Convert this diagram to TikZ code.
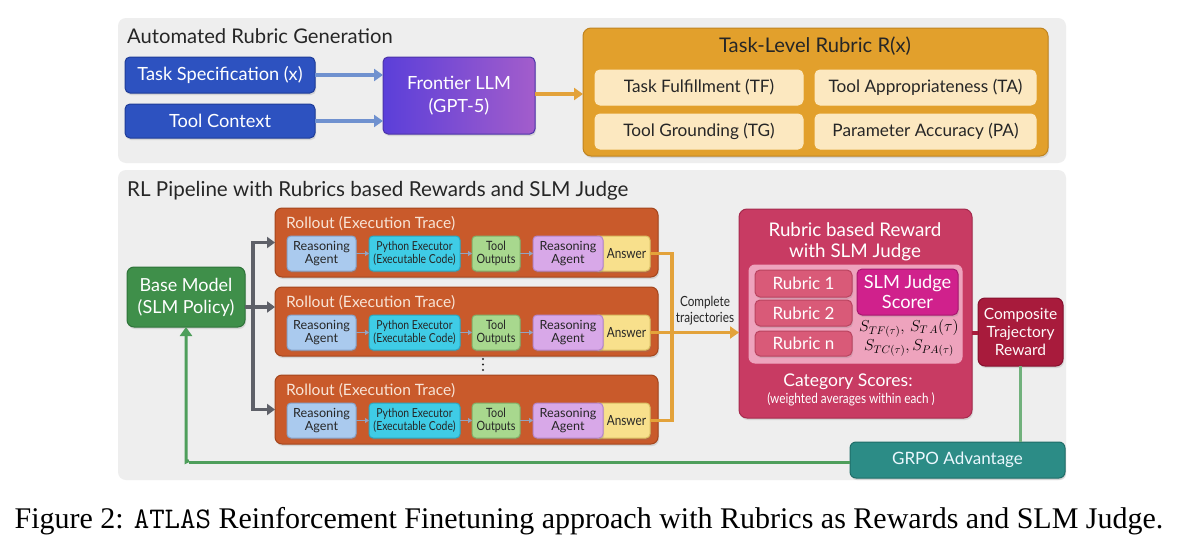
\documentclass[tikz,border=0pt]{standalone}
\usepackage{fontspec}
\setmainfont{Lato}
\newfontfamily\capserif{Liberation Serif}
\newfontfamily\condfont[FakeStretch=0.84]{Lato}
\usetikzlibrary{arrows.meta,shadows,calc}

\definecolor{panel}{HTML}{EEEEEE}
\definecolor{blueF}{HTML}{2D52C0}\definecolor{blueB}{HTML}{1E3C98}\definecolor{bluearr}{HTML}{6F91CF}
\definecolor{llmL}{HTML}{5B3FD9}\definecolor{llmR}{HTML}{A35DCB}\definecolor{llmB}{HTML}{4B33A8}
\definecolor{orF}{HTML}{E2A02C}\definecolor{orB}{HTML}{BF8420}\definecolor{orIn}{HTML}{FCE8C0}\definecolor{orArr}{HTML}{E3A23A}
\definecolor{rolF}{HTML}{C95A2B}\definecolor{rolB}{HTML}{A4461D}\definecolor{rolT}{HTML}{F8E4D6}
\definecolor{raF}{HTML}{AACAEE}\definecolor{raB}{HTML}{86A3CB}
\definecolor{pyF}{HTML}{3FCCE6}\definecolor{pyB}{HTML}{2BA6C0}
\definecolor{toF}{HTML}{A8D88E}\definecolor{toB}{HTML}{80B068}
\definecolor{rbF}{HTML}{D8A8E8}\definecolor{rbB}{HTML}{B484CA}
\definecolor{anF}{HTML}{F8E08C}\definecolor{anB}{HTML}{D9BE62}
\definecolor{grayarr}{HTML}{5E6068}
\definecolor{grn}{HTML}{4E9E5B}\definecolor{bmF}{HTML}{3F8F4A}\definecolor{bmB}{HTML}{2E7339}
\definecolor{rrF}{HTML}{C83B63}\definecolor{rrB}{HTML}{A62B4E}\definecolor{rrIn}{HTML}{EEA3BD}
\definecolor{rbxF}{HTML}{D95A78}\definecolor{rbxB}{HTML}{B9435F}
\definecolor{slmF}{HTML}{D0218C}\definecolor{slmB}{HTML}{A7186F}
\definecolor{cmpF}{HTML}{A81B3C}\definecolor{cmpB}{HTML}{85112E}
\definecolor{grpoF}{HTML}{2C8C86}\definecolor{grpoB}{HTML}{1F6D68}
\definecolor{darktxt}{HTML}{262626}
\definecolor{smallarr}{HTML}{93A3C0}

\newcommand\bx[7]{\node[#6, minimum width={((#4)-(#2))*1pt}, minimum height={((#5)-(#3))*1pt}] (#1) at ({((#2)+(#4))/2},{((#3)+(#5))/2}) {#7};}
\newcommand\fs[2]{\fontsize{#1}{#2}\selectfont}

\tikzset{
  base/.style={draw, rounded corners=5pt, inner sep=0pt, outer sep=0pt, line width=1pt, align=center},
  shad/.style={drop shadow={opacity=0.22, shadow xshift=1pt, shadow yshift=-2pt}},
  panelbox/.style={fill=panel, rounded corners=8pt, inner sep=0pt, outer sep=0pt},
  bluebox/.style={base, shad, fill=blueF, draw=blueB, text=white, font=\fs{18.2}{21}},
  llmbox/.style={base, shad, left color=llmL, right color=llmR, draw=llmB, text=white, font=\fs{18.2}{23}},
  orbox/.style={base, shad, fill=orF, draw=orB, rounded corners=8pt},
  orinner/.style={base, fill=orIn, draw=orIn, text=darktxt, font=\fs{17.2}{20}},
  rolbox/.style={base, shad, fill=rolF, draw=rolB, rounded corners=7pt},
  small/.style={base, shad, text=darktxt, font=\fs{12.6}{13.2}, rounded corners=4pt},
  rabox/.style={small, fill=raF, draw=raB},
  pybox/.style={small, fill=pyF, draw=pyB, font=\condfont\fs{12.4}{13.2}},
  tobox/.style={small, fill=toF, draw=toB, font=\condfont\fs{12.8}{13.2}},
  rbbox/.style={small, fill=rbF, draw=rbB},
  anbox/.style={small, fill=anF, draw=anB, font=\condfont\fs{14}{14}},
  bmbox/.style={base, shad, fill=bmF, draw=bmB, text=white, font=\fs{18}{22}, rounded corners=7pt},
  rrbox/.style={base, shad, fill=rrF, draw=rrB, rounded corners=8pt},
  rrinner/.style={base, fill=rrIn, draw=rrIn, rounded corners=6pt},
  rubbox/.style={base, shad, fill=rbxF, draw=rbxB, text=white, font=\fs{17}{19}},
  slmbox/.style={base, shad, fill=slmF, draw=slmB, text=white, font=\fs{18.2}{20}},
  cmpbox/.style={base, shad, fill=cmpF, draw=cmpB, text=white!92!pink, font=\fs{15.5}{18}, rounded corners=7pt},
  grpobox/.style={base, shad, fill=grpoF, draw=grpoB, text=white!92!cyan, font=\fs{17}{19}, rounded corners=6pt},
  bluearrow/.style={draw=bluearr, line width=3.5pt, -{Triangle[length=9pt,width=12pt]}},
  orarrow/.style={draw=orArr, line width=3.5pt, -{Triangle[length=9pt,width=12pt]}},
  orline/.style={draw=orArr, line width=3.5pt},
  grayarrow/.style={draw=grayarr, line width=3.5pt, -{Triangle[length=8pt,width=11pt]}},
  grayline/.style={draw=grayarr, line width=3.5pt},
  grnarrow/.style={draw=grn, line width=3pt, -{Triangle[length=9pt,width=12pt]}},
  grnline/.style={draw=grn, line width=3pt},
  tinyarrow/.style={draw=smallarr, line width=1.5pt, -{Triangle[length=4pt,width=5pt]}},
  sectitle/.style={anchor=base west, inner sep=0pt, text=darktxt},
  roltitle/.style={anchor=base west, inner sep=0pt, text=rolT, font=\fs{15.6}{18}},
}

\newcommand\rollout[2]{%
  \bx{r#1}{275}{#2}{658}{#2+69}{rolbox}{}
  \node[roltitle] (rt#1) at (286,#2+20) {Rollout (Execution Trace)};
  \bx{ra#1}{287}{#2+28}{356}{#2+63}{rabox}{Reasoning\\Agent}
  \bx{py#1}{369}{#2+28}{460}{#2+63}{pybox}{Python Executor\\(Executable Code)}
  \bx{to#1}{472}{#2+28}{520}{#2+63}{tobox}{Tool\\Outputs}
  \bx{an#1}{594}{#2+28}{650}{#2+63}{anbox}{\hspace*{9pt}Answer}
  \bx{rb#1}{533}{#2+28}{603}{#2+63}{rbbox}{Reasoning\\Agent}
  \draw[tinyarrow] (ra#1.east) -- (py#1.west);
  \draw[tinyarrow] (py#1.east) -- (to#1.west);
  \draw[tinyarrow] (to#1.east) -- (rb#1.west);
}

\begin{document}
\begin{tikzpicture}[x=1pt, y=-1pt]
\useasboundingbox (0,0) rectangle (1186,554);
\fill[white] (0,0) rectangle (1186,554);

% ---------- top panel ----------
\bx{toppanel}{118}{18}{1066}{163}{panelbox}{}
\node[sectitle, font=\fs{20.2}{22}] (t1) at (127,43) {Automated Rubric Generation};
\bx{ts}{125}{57}{315}{93}{bluebox}{Task Specification (x)}
\bx{tc}{125}{104}{315}{138}{bluebox}{Tool Context}
\bx{llm}{383}{57}{535}{134}{llmbox}{Frontier LLM\\(GPT-5)}
\bx{rub}{583}{28}{1048}{156}{orbox}{}
\node[anchor=base, inner sep=0pt, text=darktxt, font=\fs{20.2}{22}] (rubt) at (815,52) {Task-Level Rubric R(x)};
\bx{tf}{595}{70}{803}{105}{orinner}{Task Fulfillment (TF)}
\bx{ta}{815}{70}{1036}{105}{orinner}{Tool Appropriateness (TA)}
\bx{tg}{595}{114}{803}{149}{orinner}{Tool Grounding (TG)}
\bx{pa}{815}{114}{1036}{149}{orinner}{Parameter Accuracy (PA)}
\draw[bluearrow] (ts.east) -- (ts.east -| llm.west);
\draw[bluearrow] (tc.east) -- (tc.east -| llm.west);
\draw[orarrow] ([yshift=1.5pt]llm.east) -- ([yshift=1.5pt]llm.east -| rub.west);

% ---------- bottom panel ----------
\bx{botpanel}{118}{170}{1066}{480}{panelbox}{}
\node[sectitle, font=\fs{20.6}{22}] (t2) at (127,196) {RL Pipeline with Rubrics based Rewards and SLM Judge};

\rollout{1}{208}
\rollout{2}{287}
\rollout{3}{375}
\foreach \yy in {359,364.5,370} \fill[darktxt] (483,\yy) circle (1.1pt);

\bx{bm}{127}{267}{245}{327}{bmbox}{Base Model\\(SLM Policy)}
\coordinate (split) at (253,307);
\draw[grayline] (bm.east |- split) -- (split);
\draw[grayline] (split |- r1.west) -- (split |- r3.west);
\draw[grayarrow] ([xshift=-1.75pt]split |- r1.west) -- (r1.west);
\draw[grayarrow] (split) -- (split -| r2.west);
\draw[grayarrow] ([xshift=-1.75pt]split |- r3.west) -- (r3.west);

% reward block
\bx{rr}{739}{209}{972}{418}{rrbox}{}
\node[inner sep=0pt, text=white, font=\fs{18.8}{21}, align=center] (rrt) at (855,242) {Rubric based Reward\\with SLM Judge};
\bx{rri}{749}{265}{962}{363}{rrinner}{}
\bx{rub1}{755}{270}{852}{297}{rubbox}{Rubric 1}
\bx{rub2}{755}{300}{852}{326}{rubbox}{Rubric 2}
\bx{rubn}{755}{331}{852}{356}{rubbox}{Rubric n}
\bx{slm}{857}{269}{958}{315}{slmbox}{SLM Judge\\Scorer}
\node[inner sep=0pt, text=black, font=\fs{14.4}{15}, align=center, scale=1.1] (sc) at (909,338) {$S_{TF(\tau)},\,S_{T\,A}(\tau)$\\[2.5pt]$S_{TC(\tau)},S_{PA(\tau)}$};
\node[anchor=base, inner sep=0pt, text=white, font=\fs{17.5}{19}] (cs) at (848,386) {Category Scores:};
\node[anchor=base, inner sep=0pt, text=white, font=\condfont\fs{14}{14}] (wa) at (851,403) {(weighted averages within each )};

\bx{cmp}{978}{298}{1063}{366}{cmpbox}{Composite\\Trajectory\\Reward}
\bx{grpo}{850}{442}{1065}{478}{grpobox}{GRPO Advantage}

\draw[draw=cmpF, line width=4pt] (rr.east |- 0,333) -- (cmp.west |- 0,333);
\draw[draw=grn!80!white, line width=2.5pt] (cmp.south) -- (cmp.south |- grpo.north);

% collector
\coordinate (coll) at (672,0);
\draw[orline] (an1.east) -- (an1.east -| coll) -- (an3.east -| coll) -- (an3.east);
\draw[orarrow] (an2.east) -- (an2.east -| rr.west);
\node[inner sep=0pt, text=darktxt, font=\condfont\fs{14}{16}, align=center] (ctr) at (705,311) {Complete\\trajectories};

% feedback
\coordinate (fb) at (189,462);
\draw[grnline] (grpo.west |- fb) -- (fb);
\draw[grnarrow] ([yshift=1.5pt]fb) -- (fb -| bm.south) -- (bm.south);

% caption
\node[inner sep=0pt, text=black, font=\capserif\fs{30}{32}] (cap) at (589,521) {Figure 2: {\ttfamily ATLAS} Reinforcement Finetuning approach with Rubrics as Rewards and SLM Judge.};
\end{tikzpicture}
\end{document}
